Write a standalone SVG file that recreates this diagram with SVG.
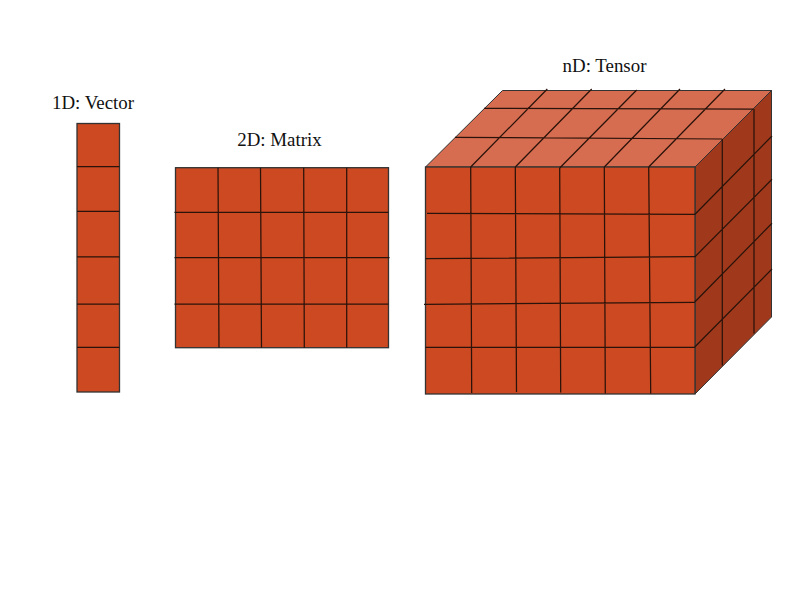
<svg xmlns="http://www.w3.org/2000/svg" width="800" height="600" viewBox="0 0 800 600">
<style>
text{font-family:"Liberation Serif","Times New Roman",serif;font-size:18.9px;fill:#111;text-anchor:middle}
.front{fill:#cc4922;stroke:#333;stroke-width:1.3}
.top{fill:#d66c50;stroke:#333;stroke-width:1}
.side{fill:#a0391c;stroke:#333;stroke-width:1}
.grid{fill:none;stroke:#2a130a;stroke-width:1.25}
</style>
<rect width="800" height="600" fill="#fff"/>
<g id="vector">
<text x="93" y="109">1D: Vector</text>
<rect class="front" x="77" y="123.5" width="42.5" height="268.5"/>
<path class="grid" d="M77 166.7H119.5M77 211.3H119.5M77 256.8H119.5M77 304H119.5M77 347.3H119.5"/>
</g>
<g id="matrix">
<text x="279.500" y="146">2D: Matrix</text>
<rect class="front" x="175.500" y="167.700" width="213" height="180"/>
<path class="grid" d="M218 167.700L219 347.700M260.500 167.700L261.500 347.700M303.700 167.700L304.300 347.700M346.700 167.700V347.700M174.500 212.300H388.500M174.500 257.700H389.500M174.500 304H388.500"/>
</g>
<g id="tensor">
<text x="604.500" y="72">nD: Tensor</text>
<path class="top" d="M425.500 167L502.500 90.500H771.500L695 167Z"/>
<path class="side" d="M695 167L771.500 90.500V317L695 394Z"/>
<rect class="front" x="425.500" y="167" width="269.500" height="227"/>
<path class="grid" d="M484 108.300L753.300 109M455 137.300L722.300 139M470.700 167L547.300 89M515.300 167L591.700 89M559.700 168L636.700 90M604.300 167L680 89M648.700 167L725 89"/>
<path class="grid" d="M722.300 139V365.500M754 109V333.500M695 214.300L772 136M695 256.700L772 179.300M695 301.700L772 223.300M695 346.700L772 269"/>
<path class="grid" d="M470.700 167L471.700 393M515.300 167L516.500 392M559.700 168L560.700 392.500M604.300 167L605.300 393.500M648.700 167L650.700 393.500M427 213.300L695 214.300M425.500 258.700L695 256.700M424 304.300L695 302.300M425.500 347.300H695"/>
</g>
</svg>
